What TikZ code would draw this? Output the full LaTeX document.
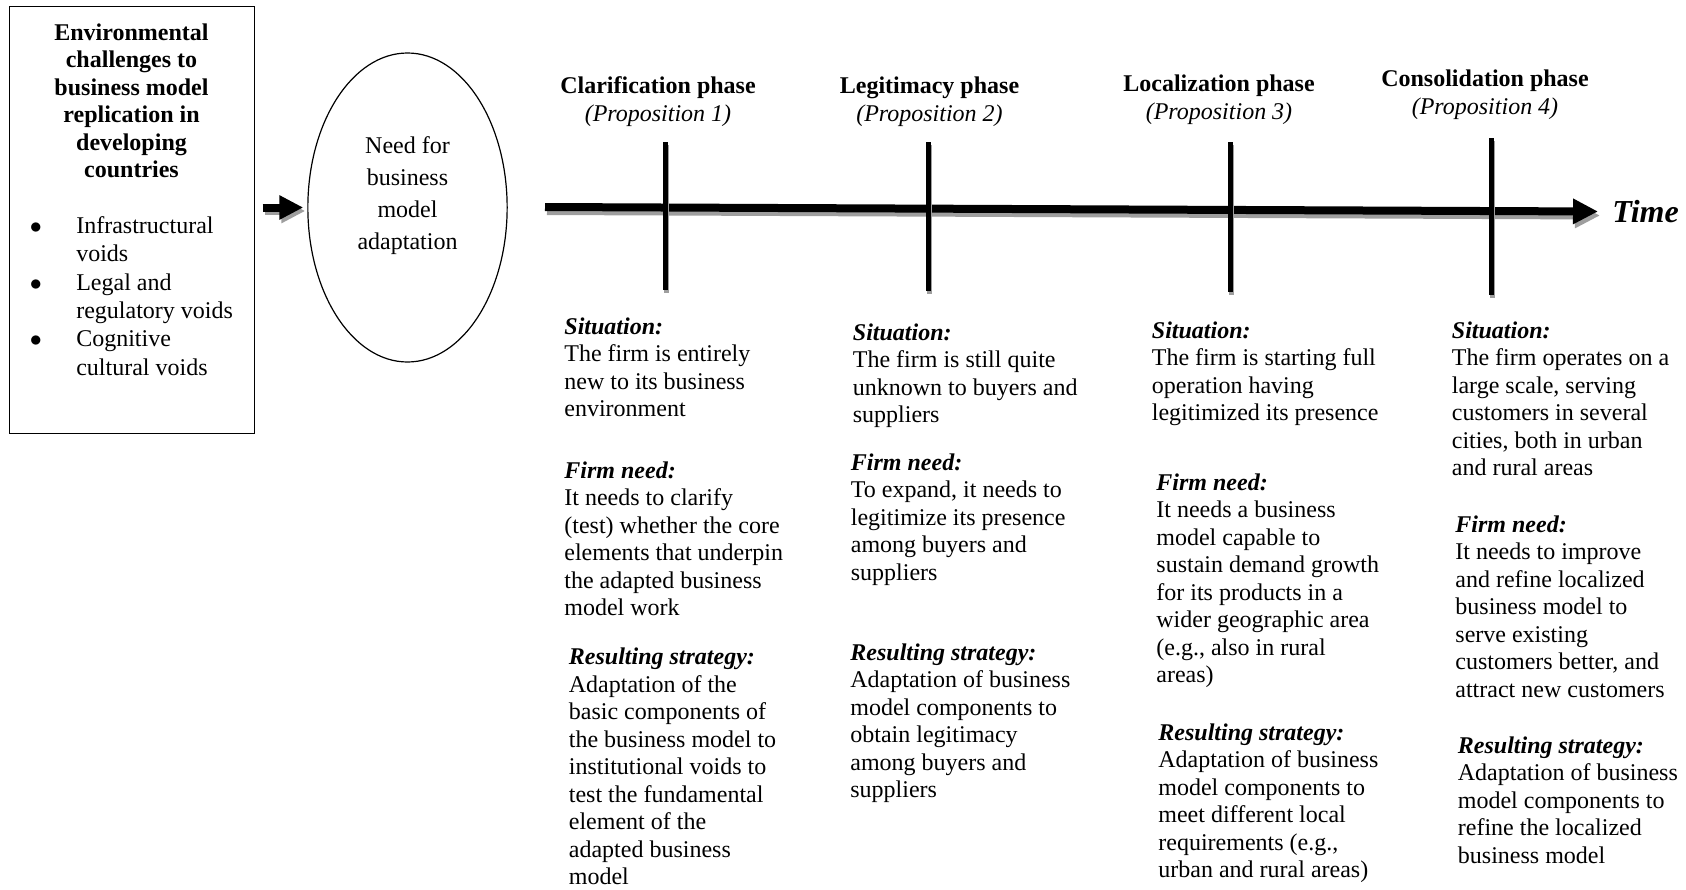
\documentclass[tikz,border=0pt]{standalone}
\usepackage{fontspec}
\setmainfont{Liberation Serif}
\usetikzlibrary{arrows.meta,shapes.geometric}
\definecolor{shadowgray}{gray}{0.62}
\newcommand{\txtfont}{\fontsize{12pt}{13.75pt}\selectfont}
\newcommand{\bull}{\makebox[23.2pt][l]{$\bullet$}}
\newcommand{\bullsp}{\hspace*{23.2pt}}
\newcommand{\hd}[1]{\textbf{\textit{#1}}}
\begin{document}
\begin{tikzpicture}[x=0.5pt,y=-0.5pt,
    txt/.style={inner sep=0pt, anchor=north west, align=left, font=\txtfont},
    phase/.style={inner sep=0pt, anchor=north, align=center, font=\txtfont},
    tick/.style={line width=2.5pt},
    timeline/.style={line width=4pt, -{Triangle[length=12.5pt,width=12pt]}},
    smallarrow/.style={line width=4pt, -{Triangle[length=12pt,width=11.5pt]}, shorten <=3.7pt, shorten >=2pt}]
\useasboundingbox (0,0) rectangle (1686,889);

\node[draw, line width=0.6pt, minimum width=122.5pt, minimum height=213.5pt, inner sep=0pt, anchor=north west] (env) at (9,6) {};
\node[txt, anchor=north, align=center, font=\txtfont\bfseries] (envtitle) at (131.5,20.75) {\strut Environmental\\challenges to\\business model\\replication in\\developing\\countries};
\node[txt, font=\fontsize{12pt}{14.2pt}\selectfont] (voids) at (29.5,213) {\strut\bull Infrastructural\\\bullsp voids\\\bull Legal and\\\bullsp regulatory voids\\\bull Cognitive\\\bullsp cultural voids};

\node[draw, ellipse, line width=0.6pt, minimum width=99.65pt, minimum height=154.5pt, inner sep=0pt] (need) at (407.5,207.5) {};
\node[anchor=north, inner sep=0pt, align=center, font=\fontsize{12pt}{16pt}\selectfont] (needtxt) at (407.5,131) {\strut Need for\\business\\model\\adaptation};

\draw[smallarrow, shadowgray, transform canvas={shift={(2,3.5)}}] (env.east |- need.west) -- (need.west);
\draw[smallarrow] (env.east |- need.west) -- (need.west);

\coordinate (tstart) at (545,207);
\coordinate (tend) at (1598,211.5);
\draw[timeline, shadowgray, transform canvas={shift={(2,4)}}] (tstart) -- (tend);
\draw[timeline] (tstart) -- (tend);
\node[anchor=west, inner sep=0pt, font=\fontsize{16pt}{19pt}\selectfont\bfseries\itshape] (time) at ([xshift=7pt]tend) {Time};

\foreach \tx/\ta/\tb in {665.5/142/290, 928.5/142/291, 1230/142/292, 1491/138/295} {
    \draw[tick, shadowgray] (\tx+1,\ta+3) -- (\tx+1,\tb+3);
    \draw[tick] (\tx,\ta) -- (\tx,\tb);
}

\node[phase] (clar) at (658,74) {\strut\textbf{Clarification phase}\\\textit{(Proposition 1)}};
\node[phase] (legit) at (929.5,74) {\strut\textbf{Legitimacy phase}\\\textit{(Proposition 2)}};
\node[phase] (local) at (1219,72) {\strut\textbf{Localization phase}\\\textit{(Proposition 3)}};
\node[phase] (consol) at (1485,67) {\strut\textbf{Consolidation phase}\\\textit{(Proposition 4)}};

\node[txt] (sit1) at (564,314.75) {\strut\hd{Situation:}\\The firm is entirely\\new to its business\\environment};
\node[txt] (need1) at (564,458.75) {\strut\hd{Firm need:}\\It needs to clarify\\(test) whether the core\\elements that underpin\\the adapted business\\model work};
\node[txt] (res1) at (568.5,645.25) {\strut\hd{Resulting strategy:}\\Adaptation of the\\basic components of\\the business model to\\institutional voids to\\test the fundamental\\element of the\\adapted business\\model};

\node[txt] (sit2) at (852.5,320.75) {\strut\hd{Situation:}\\The firm is still quite\\unknown to buyers and\\suppliers};
\node[txt] (need2) at (850.5,450.75) {\strut\hd{Firm need:}\\To expand, it needs to\\legitimize its presence\\among buyers and\\suppliers};
\node[txt] (res2) at (850,640.75) {\strut\hd{Resulting strategy:}\\Adaptation of business\\model components to\\obtain legitimacy\\among buyers and\\suppliers};

\node[txt] (sit3) at (1151.5,318.75) {\strut\hd{Situation:}\\The firm is starting full\\operation having\\legitimized its presence};
\node[txt] (need3) at (1156,470.75) {\strut\hd{Firm need:}\\It needs a business\\model capable to\\sustain demand growth\\for its products in a\\wider geographic area\\(e.g., also in rural\\areas)};
\node[txt] (res3) at (1158,720.75) {\strut\hd{Resulting strategy:}\\Adaptation of business\\model components to\\meet different local\\requirements (e.g.,\\urban and rural areas)};

\node[txt] (sit4) at (1451.5,318.75) {\strut\hd{Situation:}\\The firm operates on a\\large scale, serving\\customers in several\\cities, both in urban\\and rural areas};
\node[txt] (need4) at (1455,512.75) {\strut\hd{Firm need:}\\It needs to improve\\and refine localized\\business model to\\serve existing\\customers better, and\\attract new customers};
\node[txt] (res4) at (1457.5,733.75) {\strut\hd{Resulting strategy:}\\Adaptation of business\\model components to\\refine the localized\\business model};
\end{tikzpicture}
\end{document}
